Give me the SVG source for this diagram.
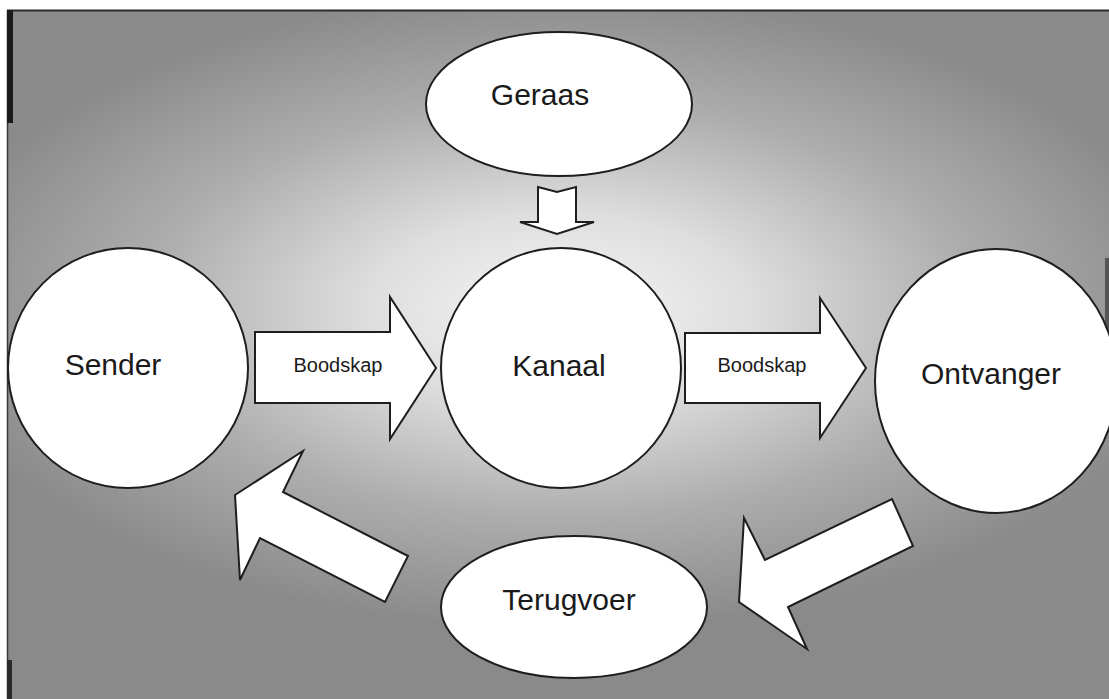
<svg xmlns="http://www.w3.org/2000/svg" width="1109" height="699" viewBox="0 0 1109 699">
<defs>
<radialGradient id="bg" gradientUnits="userSpaceOnUse" cx="560" cy="310" r="640" gradientTransform="translate(560 310) scale(1 0.5) translate(-560 -310)">
<stop offset="0" stop-color="#f6f6f6"/>
<stop offset="0.3" stop-color="#dedede"/>
<stop offset="0.65" stop-color="#adadad"/>
<stop offset="1" stop-color="#8a8a8a"/>
</radialGradient>
<style>
.shape{fill:#ffffff;stroke:#1e1e1e;stroke-width:2;stroke-linejoin:miter}
.lbl{font-family:"Liberation Sans",Arial,sans-serif;font-size:30px;fill:#1a1a1a;text-anchor:middle}
.small{font-family:"Liberation Sans",Arial,sans-serif;font-size:20px;fill:#1a1a1a;text-anchor:middle}
</style>
</defs>
<rect x="0" y="0" width="1109" height="699" fill="#ffffff"/>
<rect x="8" y="10" width="1101" height="689" fill="url(#bg)"/>
<line x1="7" y1="10.5" x2="1109" y2="10.5" stroke="#2a2a2a" stroke-width="2"/>
<line x1="7.5" y1="10" x2="7.5" y2="699" stroke="#3a3a3a" stroke-width="1.5"/>
<rect x="7" y="10" width="6" height="113" fill="#1a1a1a"/>
<rect x="7" y="660" width="5" height="39" fill="#2a2a2a"/>
<rect x="1105" y="258" width="4" height="72" fill="#555555"/>

<g id="connectors">
<polygon class="shape" points="255,332 390,332 390,297 436,368 390,439 390,403 255,403"/>
<polygon class="shape" points="685,333 820,333 820,298 866,368 820,438 820,403 685,403"/>
<polygon class="shape" points="538,187 557,192 576,187 576,222 594,222 557,234 520,222 538,222"/>
<polygon class="shape" points="235,495 303,451 283,492 408,556 385,602 260,538 240,580"/>
<polygon class="shape" points="744,518 765,560 892,499 913,546 788,607 807,649 739,602"/>
</g>
<g id="label-boodskap-1"><text class="small" x="338" y="372">Boodskap</text></g>
<g id="label-boodskap-2"><text class="small" x="762" y="372">Boodskap</text></g>

<g id="node-geraas">
<ellipse class="shape" cx="559" cy="104" rx="133" ry="72"/>
<text class="lbl" x="540" y="105">Geraas</text>
</g>
<g id="node-sender">
<ellipse class="shape" cx="128" cy="368" rx="120" ry="120"/>
<text class="lbl" x="113" y="375">Sender</text>
</g>
<g id="node-kanaal">
<ellipse class="shape" cx="561" cy="368" rx="120" ry="120"/>
<text class="lbl" x="559" y="376">Kanaal</text>
</g>
<g id="node-ontvanger">
<ellipse class="shape" cx="996" cy="381" rx="121" ry="132"/>
<text class="lbl" x="991" y="384">Ontvanger</text>
</g>
<g id="node-terugvoer">
<ellipse class="shape" cx="574" cy="607" rx="133" ry="71"/>
<text class="lbl" x="569" y="610">Terugvoer</text>
</g>
</svg>
